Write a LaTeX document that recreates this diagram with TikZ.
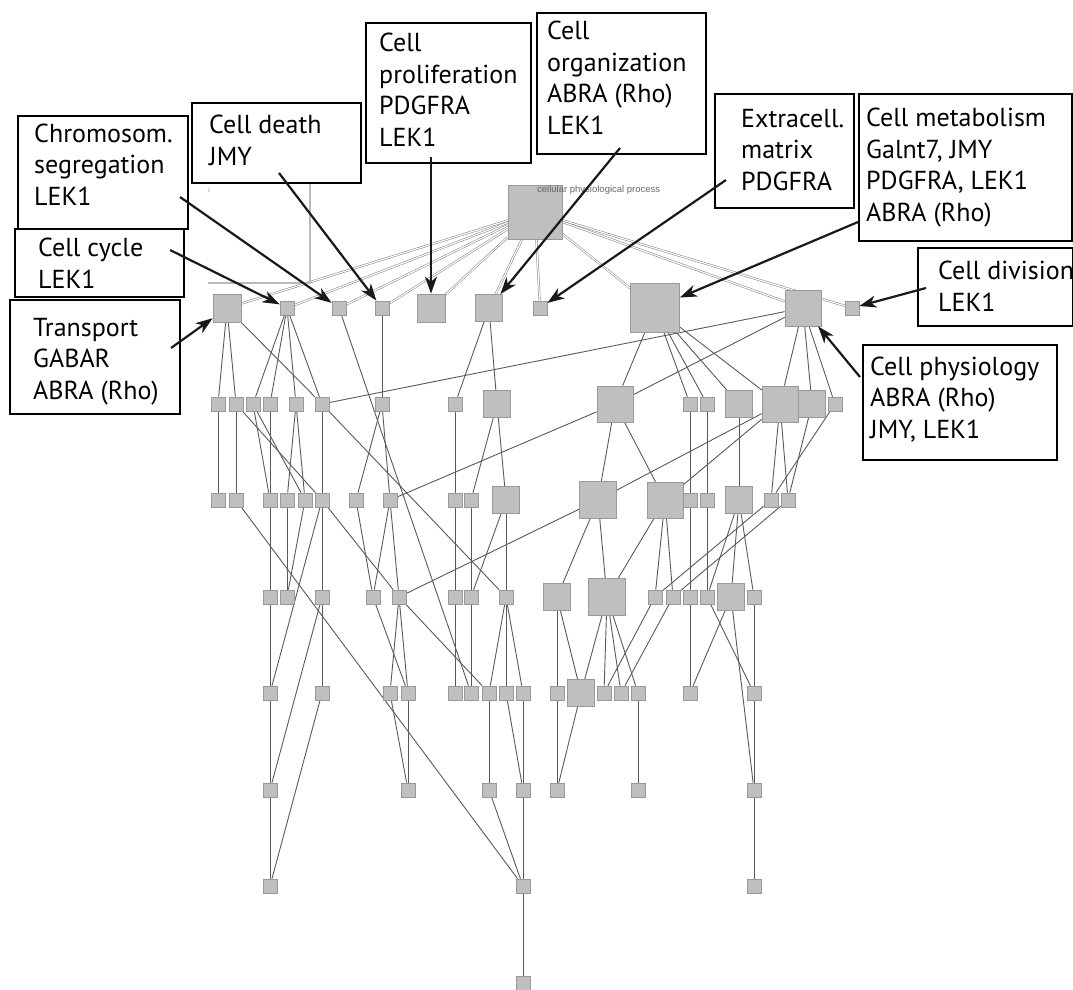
\documentclass[tikz,border=0pt]{standalone}
\usepackage{fontspec}
\setmainfont{PT Sans}
\newfontfamily\labelfont{Liberation Sans}
\usepackage{tikz}
\usetikzlibrary{arrows.meta,backgrounds}
\tikzstyle{goterm}=[
        draw=gray!80,
        fill=gray!50,
        line width=0.7pt,
        inner sep=0pt,
        minimum size=14
]
\tikzstyle{link}=[
        draw=black!65,
        line width=0.9pt
]
\tikzstyle{rootlink}=[
        draw=black!50,
        line width=0.5pt,
        double=white,
        double distance=1.2pt
]
\tikzstyle{callout}=[
        draw=black,
        fill=white,
        line width=2.2pt,
        inner sep=0pt,
        anchor=north west
]
\tikzstyle{calltext}=[
        inner sep=0pt,
        align=left,
        anchor=base west,
        font=\fontsize{26}{31.5}\selectfont
]
\tikzstyle{pointer}=[
        draw=black!90,
        line width=2.2pt,
        -{Stealth[length=17pt,width=12pt,inset=5pt]}
]
\tikzstyle{frameline}=[
        draw=gray!55,
        line width=2.2pt
]

\begin{document}
\begin{tikzpicture}[x=1pt,y=-1pt]
                        \useasboundingbox (0,0) rectangle (1073,990);

                        \node[goterm, minimum size=54] (root) at (535,212) {};
                        \node[inner sep=0pt, anchor=west, text=black!60, font=\labelfont\fontsize{9.5}{11}\selectfont] (rootname) at (537,190) {cellular physiological process};
                        \node[inner sep=0pt, text=black!55, font=\labelfont\fontsize{6}{7}\selectfont] (tick) at (209,190) {i};

                        \foreach \n/\x/\s in {tr/227/28, cc/287/14, cs/339/14, cd/382/14, cp/431/28, co/489/27, em/540/14, cm/655/49, ph/803/36, dv/852/14}
                            \node[goterm, minimum size=\s] (\n) at (\x,308) {};

                        \foreach \n/\x/\s in {a/218/14, b/236/14, c/253/14, d/270/14, e/296/14, f/322/14, g/382/14, h/455/14, i/497/27, j/615/36, k/690/14, l/707/14, m/739/27, n/780/36, o/812/27, p/835/14}
                            \node[goterm, minimum size=\s] (r2\n) at (\x,404) {};

                        \foreach \n/\x/\s in {a/218/14, b/236/14, c/270/14, d/287/14, e/305/14, f/322/14, g/356/14, h/390/14, i/455/14, j/471/14, k/506/27, l/598/37, m/665/36, n/690/14, o/707/14, p/739/27, q/771/14, r/788/14}
                            \node[goterm, minimum size=\s] (r3\n) at (\x,500) {};

                        \foreach \n/\x/\s in {a/270/14, b/287/14, c/322/14, d/373/14, e/399/14, f/455/14, g/471/14, h/506/14, i/557/27, j/607/37, k/655/14, l/673/14, m/690/14, n/707/14, o/731/27, p/754/14}
                            \node[goterm, minimum size=\s] (r4\n) at (\x,597) {};

                        \foreach \n/\x/\s in {a/270/14, b/322/14, c/390/14, d/408/14, e/455/14, f/471/14, g/489/14, h/506/14, i/523/14, j/557/14, k/581/27, l/604/14, m/621/14, n/638/14, o/690/14, p/754/14}
                            \node[goterm, minimum size=\s] (r5\n) at (\x,693) {};

                        \foreach \n/\x in {a/270, b/408, c/489, d/523, e/557, f/638, g/754}
                            \node[goterm] (r6\n) at (\x,790) {};

                        \foreach \n/\x in {a/270, b/523, c/754}
                            \node[goterm] (r7\n) at (\x,886) {};

                        \node[goterm] (r8a) at (523,983) {};

                        \begin{scope}[on background layer]
                            \foreach \t in {tr,cc,cs,cd,cp,co,em,cm,ph,dv}
                                \draw[rootlink] (root) -- (\t);

                            \foreach \a/\b in {tr/r2a, tr/r2b, tr/r2f, cc/r2c, cc/r2d, cc/r2e, cc/r2f, cs/r5f, cd/r2g, co/r2h, co/r2i,
                                cm/r2j, cm/r2k, cm/r2l, cm/r2m, cm/r2n, ph/r2n, ph/r2o, ph/r2p, ph/r2f, ph/r2j,
                                r2a/r3a, r2b/r3b, r2b/r3f, r2c/r3c, r2c/r3e, r2d/r3c, r2e/r3d, r2e/r3e, r2f/r3f, r2f/r4h,
                                r2g/r3g, r2g/r3h, r2h/r3i, r2i/r3j, r2i/r3k, r2j/r3l, r2j/r3m, r2j/r3h, r2k/r3n, r2l/r3o,
                                r2m/r3p, r2n/r3q, r2n/r3r, r2n/r3l, r2n/r3m, r2o/r3r, r2p/r3q,
                                r3b/r7b, r3c/r4a, r3d/r4b, r3e/r4b, r3f/r4c, r3f/r4e, r3f/r5a, r3g/r4d, r3h/r4d, r3h/r4e,
                                r3i/r4f, r3j/r4g, r3k/r4g, r3k/r4h, r3l/r4i, r3l/r4j, r3l/r4e, r3m/r4j, r3m/r4k, r3m/r4l,
                                r3n/r4m, r3o/r4n, r3p/r4n, r3p/r4o, r3p/r4p, r3q/r4k, r3r/r4l,
                                r4a/r5a, r4c/r5b, r4c/r6a, r4d/r5d, r4e/r5c, r4e/r5d, r4e/r5g, r4f/r5e, r4g/r5f, r4h/r5g,
                                r4h/r5h, r4h/r5i, r4i/r5j, r4i/r5k, r4j/r5k, r4j/r5l, r4j/r5m, r4j/r5n, r4k/r5l, r4l/r5m,
                                r4m/r5o, r4n/r5p, r4o/r5o, r4o/r6g, r4p/r5p,
                                r5a/r6a, r5b/r7a, r5c/r6b, r5d/r6b, r5g/r6c, r5h/r6d, r5i/r6d, r5j/r6e, r5k/r6e, r5n/r6f, r5p/r6g,
                                r6a/r7a, r6c/r7b, r6d/r7b, r6g/r7c, r7b/r8a}
                                \draw[link] (\a) -- (\b);

                            \draw[frameline] (208,283) -- (310,283) -- (310,183);
                        \end{scope}

                        \node[callout, minimum width=170, minimum height=113] (bChrom) at (17,115) {};
                        \node[callout, minimum width=169, minimum height=80] (bDeath) at (191,102) {};
                        \node[callout, minimum width=165, minimum height=140] (bProlif) at (365,22) {};
                        \node[callout, minimum width=169, minimum height=141] (bOrg) at (536,12) {};
                        \node[callout, minimum width=139, minimum height=114] (bExtra) at (714,93) {};
                        \node[callout, minimum width=213, minimum height=147] (bMetab) at (858,93) {};
                        \node[callout, minimum width=169, minimum height=68] (bCycle) at (14,228) {};
                        \node[callout, minimum width=170, minimum height=114] (bTrans) at (9,299) {};
                        \node[callout, minimum width=155, minimum height=78] (bDiv) at (917,247) {};
                        \node[callout, minimum width=194, minimum height=115] (bPhys) at (862,344) {};

                        \node[calltext] (tChrom) at (34,205) {Chromosom.\\segregation\\LEK1};
                        \node[calltext] (tDeath) at (209,165) {Cell death\\JMY};
                        \node[calltext] (tProlif) at (379,146) {Cell\\proliferation\\PDGFRA\\LEK1};
                        \node[calltext] (tOrg) at (547,134) {Cell\\organization\\ABRA (Rho)\\LEK1};
                        \node[calltext] (tExtra) at (741,190) {Extracell.\\matrix\\PDGFRA};
                        \node[calltext] (tMetab) at (866,221) {Cell metabolism\\Galnt7, JMY\\PDGFRA, LEK1\\ABRA (Rho)};
                        \node[calltext] (tCycle) at (38,288) {Cell cycle\\LEK1};
                        \node[calltext] (tTrans) at (33,399) {Transport\\GABAR\\ABRA (Rho)};
                        \node[calltext] (tDiv) at (938,311) {Cell division\\LEK1};
                        \node[calltext] (tPhys) at (870,438) {Cell physiology\\ABRA (Rho)\\JMY, LEK1};

                        \coordinate (sChrom) at (180,197);
                        \coordinate (sCycle) at (170,250);
                        \coordinate (sDeath) at (279,173);
                        \coordinate (sProlif) at (431,157);
                        \coordinate (sOrg) at (620,148);
                        \coordinate (sExtra) at (726,180);
                        \coordinate (sMetab) at (858,222);
                        \coordinate (sTrans) at (171,348);
                        \coordinate (sDiv) at (926,288);
                        \coordinate (sPhys) at (860,377);

                        \draw[pointer] (sChrom) -- (cs);
                        \draw[pointer] (sCycle) -- (cc);
                        \draw[pointer] (sDeath) -- (cd);
                        \draw[pointer] (sProlif) -- (cp);
                        \draw[pointer] (sOrg) -- (co);
                        \draw[pointer] (sExtra) -- (em);
                        \draw[pointer] (sMetab) -- (cm);
                        \draw[pointer] (sTrans) -- (tr);
                        \draw[pointer] (sDiv) -- (dv);
                        \draw[pointer] (sPhys) -- (ph);

                    \end{tikzpicture}
\end{document}
